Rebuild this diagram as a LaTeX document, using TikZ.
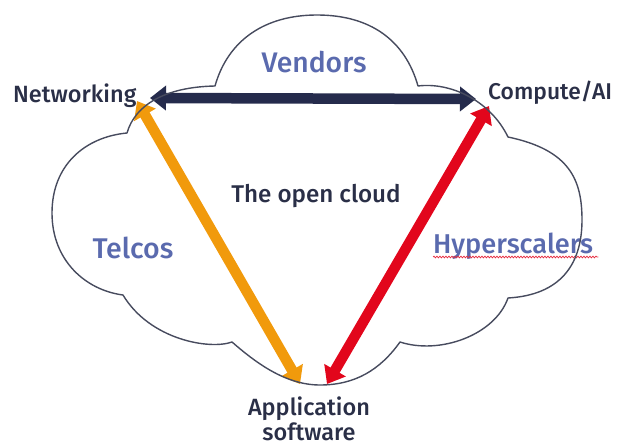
\documentclass[tikz,border=0pt]{standalone}
\usepackage{fontspec}
\IfFontExistsTF{Fira Sans Medium}
  {\setmainfont{Fira Sans Medium}}
  {\setmainfont{Liberation Sans}[FakeBold=2.2]}
\usetikzlibrary{arrows.meta,decorations.pathmorphing}
\definecolor{navy}{HTML}{252B4C}
\definecolor{darktext}{HTML}{2A2F47}
\definecolor{bluetext}{HTML}{5A6AAE}
\definecolor{orangeline}{HTML}{F19A0C}
\definecolor{redline}{HTML}{E2061C}
\definecolor{cloudline}{HTML}{474B5E}
\tikzset{
  dual/.style={line width=10.5pt,
    {Triangle[width=24pt,length=16pt]}-{Triangle[width=24pt,length=16pt]}},
  darklabel/.style={text=darktext, inner sep=0pt, font=\fontsize{23.5}{27}\selectfont},
  bluelabel/.style={text=bluetext, inner sep=0pt, font=\fontsize{27.5}{30}\selectfont},
  cloudstroke/.style={draw=cloudline, line width=1.4pt, line join=round}
}
\begin{document}
\begin{tikzpicture}[x=1pt,y=-1pt]
\useasboundingbox (0,0) rectangle (622,447);

% arrow end points
\coordinate (netTip) at (150,98);
\coordinate (compTip) at (476,99);
\coordinate (netLow) at (137,101);
\coordinate (appLeft) at (300,384);
\coordinate (appRight) at (327,384);
\coordinate (compLow) at (489,106);

% labels
\node[darklabel, anchor=base west] (net) at (13,102) {Networking};
\node[darklabel, anchor=base west, font=\fontsize{22.8}{27}\selectfont] (comp) at (488,99) {Compute/AI};
\node[darklabel, anchor=base, font=\fontsize{24.2}{27}\selectfont] (open) at (316,202) {The open cloud};
\node[darklabel, anchor=north, align=center, font=\fontsize{23.5}{25}\selectfont] (app) at (309,397) {Application\\software};
\node[bluelabel, anchor=base, font=\fontsize{28.3}{30}\selectfont] (vend) at (314,72) {Vendors};
\node[bluelabel, anchor=base, font=\fontsize{28.5}{30}\selectfont] (tel) at (133,258) {Telcos};
\node[bluelabel, anchor=base west, font=\fontsize{27.2}{30}\selectfont] (hyp) at (433,253) {Hyperscalers};

% spell-check underline
\draw[redline!85, line width=0.7pt, decorate,
      decoration={snake, amplitude=0.9pt, segment length=3pt}]
  ([yshift=-4pt]hyp.base west) -- ([xshift=5pt,yshift=-4pt]hyp.base east);

% the three links
\draw[dual, orangeline] (netLow) -- (appLeft);
\draw[dual, redline] (appRight) -- (compLow);
\draw[dual, navy] (netTip) -- (compTip);

% cloud outline
\path[cloudstroke]
  (215,86) .. controls (228,40) and (265,15) .. (317,15)
           .. controls (370,15) and (405,40) .. (418,86)
           .. controls (450,82) and (490,100) .. (508,137)
           .. controls (570,150) and (582,180) .. (582,220)
           .. controls (582,265) and (560,295) .. (508,298)
           .. controls (495,335) and (440,355) .. (400,342)
           .. controls (380,370) and (355,385) .. (320,385)
           .. controls (285,385) and (255,362) .. (232,342)
           .. controls (210,350) and (150,340) .. (123,295)
           .. controls (85,290) and (52,260) .. (52,213)
           .. controls (52,165) and (85,137) .. (127,133)
           .. controls (135,105) and (165,87) .. cycle;
\end{tikzpicture}
\end{document}
